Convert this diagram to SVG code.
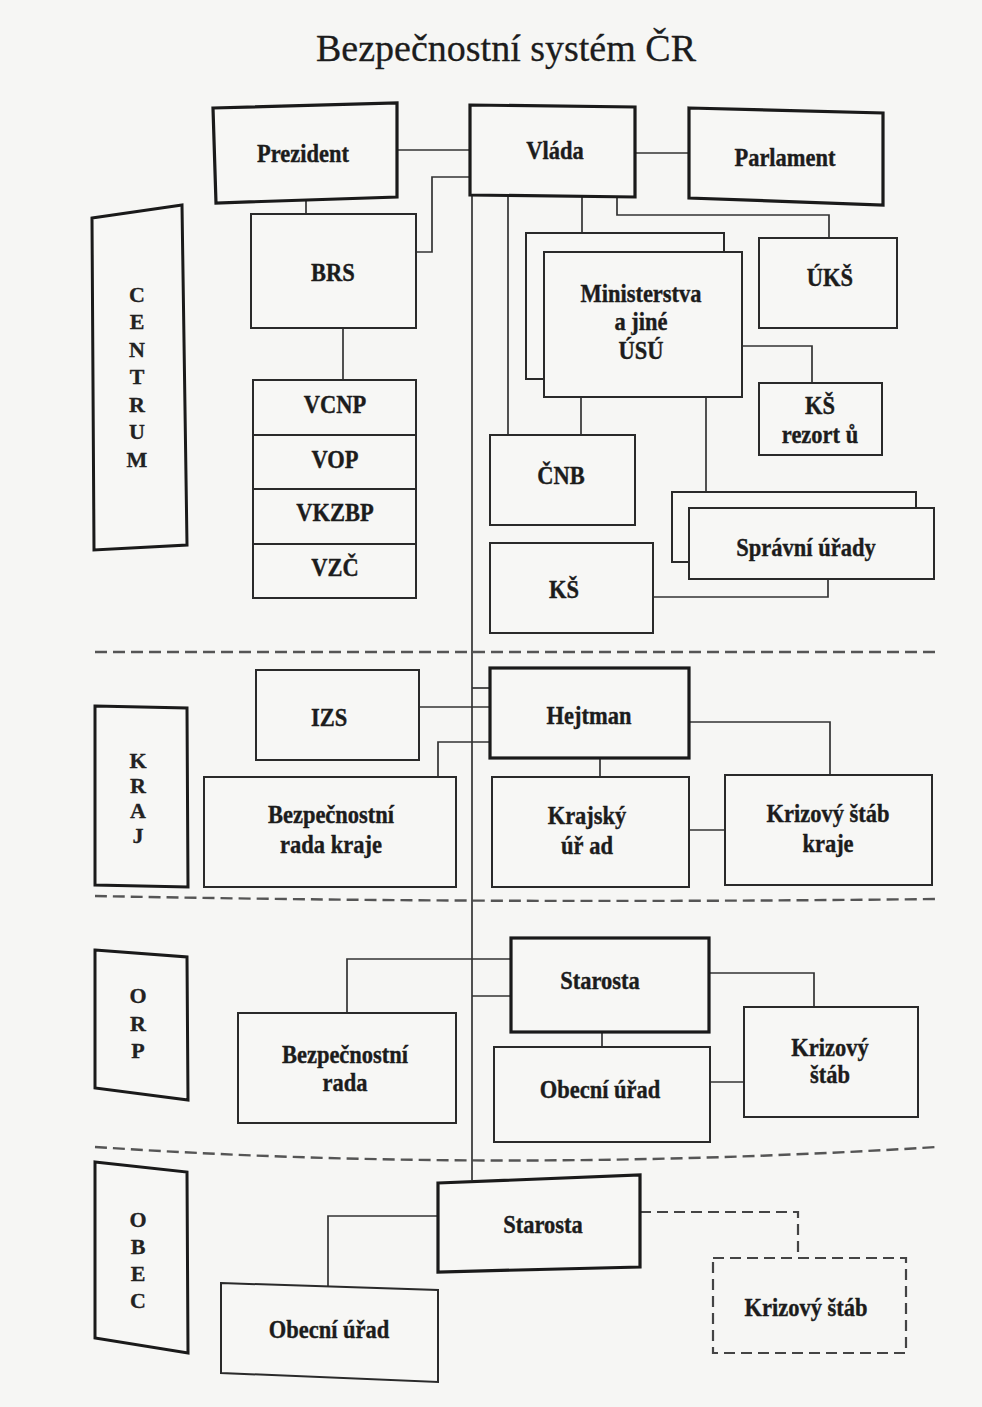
<svg xmlns="http://www.w3.org/2000/svg" width="982" height="1407" viewBox="0 0 982 1407">
<style>
  .bg{fill:#f6f6f4}
  .box{fill:#f7f7f5;stroke:#2a2a2a;stroke-width:2}
  .thick{fill:#f7f7f5;stroke:#1a1a1a;stroke-width:3.2}
  .side{fill:#f7f7f5;stroke:#1a1a1a;stroke-width:3}
  .dbox{fill:none;stroke:#444;stroke-width:2.2;stroke-dasharray:11 6}
  .conn{fill:none;stroke:#333;stroke-width:1.7}
  .dconn{fill:none;stroke:#444;stroke-width:2.2;stroke-dasharray:11 6}
  .sep{fill:none;stroke:#555;stroke-width:2.4;stroke-dasharray:12 6}
  .t{font-family:"Liberation Serif","Times New Roman",serif;font-weight:bold;font-size:22.5px;fill:#1c1c1c;stroke:#1c1c1c;stroke-width:0.35;text-anchor:middle}
  .s{font-family:"Liberation Serif","Times New Roman",serif;font-weight:bold;font-size:22px;fill:#222;stroke:#222;stroke-width:0.3;text-anchor:middle}
  .title{font-family:"Liberation Serif","Times New Roman",serif;font-size:38px;fill:#1c1c1c;stroke:#1c1c1c;stroke-width:0.3;text-anchor:middle}
</style>
<rect class="bg" x="0" y="0" width="982" height="1407"/>
<text class="title" x="506" y="61">Bezpečnostní systém ČR</text>

<g id="separators">
  <line class="sep" x1="95" y1="652" x2="937" y2="652"/>
  <path class="sep" d="M95,896 Q500,904 937,899"/>
  <path class="sep" d="M95,1147 Q500,1174 937,1147"/>
</g>

<g id="connectors">
  <line class="conn" x1="397" y1="150" x2="470" y2="150"/>
  <line class="conn" x1="635" y1="153" x2="689" y2="153"/>
  <line class="conn" x1="306" y1="201" x2="306" y2="214"/>
  <path class="conn" d="M416,252 H432 V177 H470"/>
  <line class="conn" x1="472" y1="196" x2="472" y2="1180"/>
  <line class="conn" x1="508" y1="196" x2="508" y2="435"/>
  <line class="conn" x1="582" y1="196" x2="582" y2="233"/>
  <path class="conn" d="M617,196 V215 H829 V238"/>
  <line class="conn" x1="343" y1="328" x2="343" y2="380"/>
  <path class="conn" d="M742,346 H812 V383"/>
  <line class="conn" x1="581" y1="397" x2="581" y2="435"/>
  <line class="conn" x1="706" y1="397" x2="706" y2="492"/>
  <path class="conn" d="M653,597 H828 V579"/>
  <line class="conn" x1="472" y1="688" x2="490" y2="688"/>
  <line class="conn" x1="419" y1="707" x2="490" y2="707"/>
  <path class="conn" d="M438,777 V742 H490"/>
  <line class="conn" x1="600" y1="758" x2="600" y2="777"/>
  <path class="conn" d="M689,722 H830 V775"/>
  <line class="conn" x1="689" y1="830" x2="725" y2="830"/>
  <path class="conn" d="M347,1013 V959 H511"/>
  <line class="conn" x1="472" y1="996" x2="511" y2="996"/>
  <line class="conn" x1="602" y1="1032" x2="602" y2="1047"/>
  <path class="conn" d="M709,973 H814 V1008"/>
  <line class="conn" x1="710" y1="1082" x2="744" y2="1082"/>
  <path class="conn" d="M438,1216 H328 V1286"/>
  <path class="dconn" d="M640,1212 H798 V1258"/>
</g>

<g id="centrum">
  <polygon class="side" points="92,218 182,205 187,545 94,550"/>
  <text class="s" x="137" y="302">C</text>
  <text class="s" x="137" y="329">E</text>
  <text class="s" x="137" y="357">N</text>
  <text class="s" x="137" y="384">T</text>
  <text class="s" x="137" y="412">R</text>
  <text class="s" x="137" y="439">U</text>
  <text class="s" x="137" y="467">M</text>
</g>
<g id="kraj">
  <polygon class="side" points="95,706 187,708 188,887 95,885"/>
  <text class="s" x="138" y="768">K</text>
  <text class="s" x="138" y="793">R</text>
  <text class="s" x="138" y="818">A</text>
  <text class="s" x="138" y="843">J</text>
</g>
<g id="orp">
  <polygon class="side" points="95,950 187,957 188,1100 95,1088"/>
  <text class="s" x="138" y="1003">O</text>
  <text class="s" x="138" y="1031">R</text>
  <text class="s" x="138" y="1058">P</text>
</g>
<g id="obec">
  <polygon class="side" points="95,1162 187,1172 188,1353 95,1338"/>
  <text class="s" x="138" y="1227">O</text>
  <text class="s" x="138" y="1254">B</text>
  <text class="s" x="138" y="1281">E</text>
  <text class="s" x="138" y="1308">C</text>
</g>

<g id="prezident">
  <polygon class="thick" points="213,108 397,103 397,197 216,203"/>
  <text class="t" transform="translate(303 162) scale(1 1.15)">Prezident</text>
</g>
<g id="vlada">
  <polygon class="thick" points="470,105 635,107 635,197 470,195"/>
  <text class="t" transform="translate(555 159) scale(1 1.15)">Vláda</text>
</g>
<g id="parlament">
  <polygon class="thick" points="689,108 883,113 883,205 689,198"/>
  <text class="t" transform="translate(785 166) scale(1 1.15)">Parlament</text>
</g>
<g id="brs">
  <rect class="box" x="251" y="214" width="165" height="114"/>
  <text class="t" transform="translate(333 281) scale(1 1.15)">BRS</text>
</g>
<g id="vyb">
  <rect class="box" x="253" y="380" width="163" height="218"/>
  <line class="box" x1="253" y1="435" x2="416" y2="435"/>
  <line class="box" x1="253" y1="489" x2="416" y2="489"/>
  <line class="box" x1="253" y1="544" x2="416" y2="544"/>
  <text class="t" transform="translate(335 413) scale(1 1.15)">VCNP</text>
  <text class="t" transform="translate(335 468) scale(1 1.15)">VOP</text>
  <text class="t" transform="translate(335 521) scale(1 1.15)">VKZBP</text>
  <text class="t" transform="translate(335 576) scale(1 1.15)">VZČ</text>
</g>
<g id="ministerstva">
  <rect class="box" x="526" y="233" width="198" height="146"/>
  <rect class="box" x="544" y="252" width="198" height="145"/>
  <text class="t" transform="translate(641 302) scale(1 1.15)">Ministerstva</text>
  <text class="t" transform="translate(641 330) scale(1 1.15)">a jiné</text>
  <text class="t" transform="translate(641 359) scale(1 1.15)">ÚSÚ</text>
</g>
<g id="uks">
  <rect class="box" x="759" y="238" width="138" height="90"/>
  <text class="t" transform="translate(830 286) scale(1 1.15)">ÚKŠ</text>
</g>
<g id="ks-rezortu">
  <rect class="box" x="759" y="383" width="123" height="72"/>
  <text class="t" transform="translate(820 414) scale(1 1.15)">KŠ</text>
  <text class="t" transform="translate(820 443) scale(1 1.15)">rezort ů</text>
</g>
<g id="cnb">
  <rect class="box" x="490" y="435" width="145" height="90"/>
  <text class="t" transform="translate(561 484) scale(1 1.15)">ČNB</text>
</g>
<g id="spravni-urady">
  <rect class="box" x="672" y="492" width="244" height="70"/>
  <rect class="box" x="689" y="508" width="245" height="71"/>
  <text class="t" transform="translate(806 556) scale(1 1.15)">Správní úřady</text>
</g>
<g id="ks">
  <rect class="box" x="490" y="543" width="163" height="90"/>
  <text class="t" transform="translate(564 598) scale(1 1.15)">KŠ</text>
</g>

<g id="izs">
  <rect class="box" x="256" y="670" width="163" height="90"/>
  <text class="t" transform="translate(329 726) scale(1 1.15)">IZS</text>
</g>
<g id="hejtman">
  <rect class="thick" x="490" y="668" width="199" height="90"/>
  <text class="t" transform="translate(589 724) scale(1 1.15)">Hejtman</text>
</g>
<g id="bezpecnostni-rada-kraje">
  <rect class="box" x="204" y="777" width="252" height="110"/>
  <text class="t" transform="translate(331 823) scale(1 1.15)">Bezpečnostní</text>
  <text class="t" transform="translate(331 853) scale(1 1.15)">rada kraje</text>
</g>
<g id="krajsky-urad">
  <rect class="box" x="492" y="777" width="197" height="110"/>
  <text class="t" transform="translate(587 824) scale(1 1.15)">Krajský</text>
  <text class="t" transform="translate(587 854) scale(1 1.15)">úř ad</text>
</g>
<g id="krizovy-stab-kraje">
  <rect class="box" x="725" y="775" width="207" height="110"/>
  <text class="t" transform="translate(828 822) scale(1 1.15)">Krizový štáb</text>
  <text class="t" transform="translate(828 852) scale(1 1.15)">kraje</text>
</g>

<g id="starosta-orp">
  <rect class="thick" x="511" y="938" width="198" height="94"/>
  <text class="t" transform="translate(600 989) scale(1 1.15)">Starosta</text>
</g>
<g id="bezpecnostni-rada">
  <rect class="box" x="238" y="1013" width="218" height="110"/>
  <text class="t" transform="translate(345 1063) scale(1 1.15)">Bezpečnostní</text>
  <text class="t" transform="translate(345 1091) scale(1 1.15)">rada</text>
</g>
<g id="obecni-urad-orp">
  <rect class="box" x="494" y="1047" width="216" height="95"/>
  <text class="t" transform="translate(600 1098) scale(1 1.15)">Obecní úřad</text>
</g>
<g id="krizovy-stab-orp">
  <rect class="box" x="744" y="1007" width="174" height="110"/>
  <text class="t" transform="translate(830 1056) scale(1 1.15)">Krizový</text>
  <text class="t" transform="translate(830 1083) scale(1 1.15)">štáb</text>
</g>

<g id="starosta-obec">
  <polygon class="thick" points="438,1183 640,1175 640,1267 438,1272"/>
  <text class="t" transform="translate(543 1233) scale(1 1.15)">Starosta</text>
</g>
<g id="obecni-urad-obec">
  <polygon class="box" points="221,1283 438,1290 438,1382 221,1373"/>
  <text class="t" transform="translate(329 1338) scale(1 1.15)">Obecní úřad</text>
</g>
<g id="krizovy-stab-obec">
  <rect class="dbox" x="713" y="1258" width="193" height="95"/>
  <text class="t" transform="translate(806 1316) scale(1 1.15)">Krizový štáb</text>
</g>
</svg>
